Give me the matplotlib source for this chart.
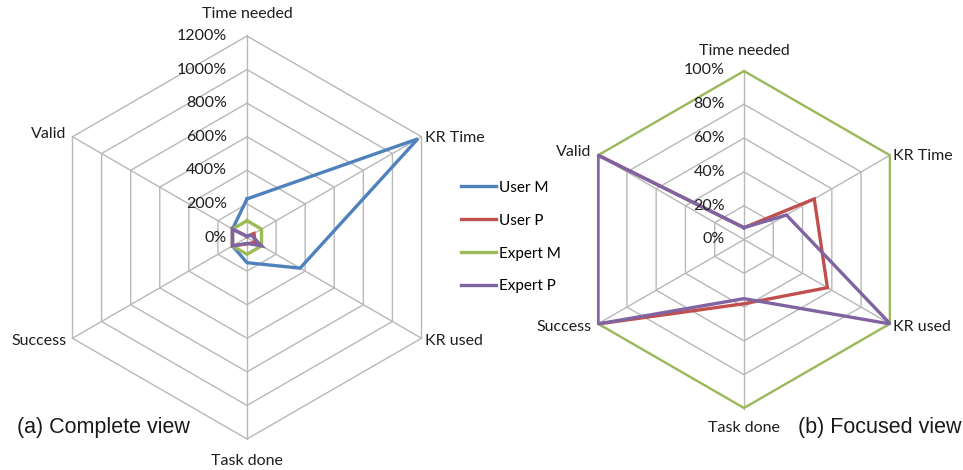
import numpy as np
import matplotlib
matplotlib.use('Agg')
import matplotlib.pyplot as plt
from matplotlib.patches import Polygon

# radar axes, clockwise from the top
categories = ['Time needed', 'KR Time', 'KR used', 'Task done', 'Success', 'Valid']

# values in percent
series_names = ['User M', 'User P', 'Expert M', 'Expert P']
user_m = [230, 1175, 365, 150, 100, 100]
user_p = [7, 48, 57, 38, 100, 100]
expert_m = [100, 100, 100, 100, 100, 100]
expert_p = [7, 29, 100, 35, 100, 100]
colors = ['#4F81BD', '#C0504D', '#9BBB59', '#8064A2']

complete_ticks = [0, 200, 400, 600, 800, 1000, 1200]
focused_ticks = [0, 20, 40, 60, 80, 100]

W, H = 963, 470
label_font = ['Lato', 'DejaVu Sans']
text_col = '#1f1f1f'
grid_col = '#B8B8B8'
fs = 11.5

# label offsets in pixels (dx, dy up), alignment
label_place = [((0, 22), 'center'), ((3, -1), 'left'), ((3, -3), 'left'),
               ((0, -21), 'center'), ((-6, -3), 'right'), ((-6, 3), 'right')]


def radar_axes(fig, cx, cy, R, half=1.3):
    ax = fig.add_axes([(cx - half * R) / W, (H - cy - half * R) / H,
                       2 * half * R / W, 2 * half * R / H])
    ax.set_xlim(-half, half)
    ax.set_ylim(-half, half)
    ax.axis('off')
    return ax


def plot_radar(ax, ticks, label_dy, tick_dx):
    n = len(categories)
    theta = np.pi / 2 - 2 * np.pi * np.arange(n) / n
    rmax = ticks[-1]
    # rings and spokes
    for t in ticks[1:]:
        r = t / rmax
        ring = np.append(theta, theta[0])
        ax.plot(r * np.cos(ring), r * np.sin(ring), color=grid_col, lw=1.0, zorder=1)
    for th in theta:
        ax.plot([0, np.cos(th)], [0, np.sin(th)], color=grid_col, lw=1.0, zorder=1)
    hexagon = Polygon(np.c_[np.cos(theta), np.sin(theta)] * 1.004, closed=True,
                      transform=ax.transData, fill=False, lw=0)
    ax.add_patch(hexagon)
    lines = []
    for name, vals, c in zip(series_names, [user_m, user_p, expert_m, expert_p], colors):
        r = np.array(vals + vals[:1]) / rmax
        th = np.append(theta, theta[0])
        ln, = ax.plot(r * np.cos(th), r * np.sin(th), color=c, lw=2.4,
                      label=name, zorder=3, solid_joinstyle='miter')
        ln.set_clip_path(hexagon)
        lines.append(ln)
    # tick labels along the top spoke
    for t in ticks:
        ax.annotate(f'{t}%', (0, t / rmax), xytext=(tick_dx * 0.72, 0),
                    textcoords='offset points', ha='right', va='center',
                    fontsize=fs, family=label_font, color=text_col)
    # category labels
    for i, (lab, th) in enumerate(zip(categories, theta)):
        (dx, dy), ha = label_place[i]
        if i in (0, 3):
            dy = label_dy if i == 0 else -label_dy
        ax.annotate(lab, (np.cos(th), np.sin(th)), xytext=(dx * 0.72, dy * 0.72),
                    textcoords='offset points', ha=ha, va='center',
                    fontsize=fs, family=label_font, color=text_col)
    return lines


fig = plt.figure(figsize=(W / 100, H / 100), dpi=100)

ax1 = radar_axes(fig, 247, 237.5, 201.5)
lines = plot_radar(ax1, complete_ticks, 22, -20)

ax2 = radar_axes(fig, 744, 239.5, 169)
plot_radar(ax2, focused_ticks, 19, -19)

fig.legend(handles=lines, loc='upper left', bbox_to_anchor=(453 / W, 1 - 173 / H),
           frameon=False, handlelength=2.3, handletextpad=0.2,
           labelspacing=1.24, borderpad=0, prop={'family': label_font, 'size': 11})

fig.text(17 / W, 1 - 427 / H, '(a) Complete view', fontsize=15.5,
         family='Liberation Sans', color='#1a1a1a', ha='left', va='center')
fig.text(798 / W, 1 - 427 / H, '(b) Focused view', fontsize=15.5,
         family='Liberation Sans', color='#1a1a1a', ha='left', va='center')

fig.savefig('out.png', dpi=100)
